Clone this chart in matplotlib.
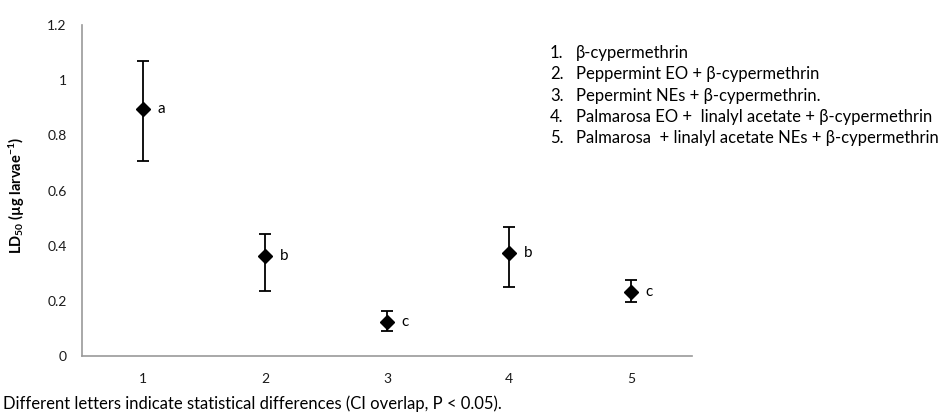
import matplotlib
matplotlib.use("Agg")
import matplotlib.pyplot as plt

plt.rcParams['font.family'] = ['Lato', 'DejaVu Sans']
plt.rcParams['mathtext.default'] = 'regular'

groups = [1, 2, 3, 4, 5]
ld50 = [0.896, 0.363, 0.122, 0.372, 0.232]
ci_low = [0.707, 0.236, 0.092, 0.251, 0.196]
ci_high = [1.068, 0.443, 0.163, 0.467, 0.276]
letters = ['a', 'b', 'c', 'b', 'c']
legend_items = [
    "β-cypermethrin",
    "Peppermint EO + β-cypermethrin",
    "Pepermint NEs + β-cypermethrin.",
    "Palmarosa EO +  linalyl acetate + β-cypermethrin",
    "Palmarosa  + linalyl acetate NEs + β-cypermethrin",
]
yticks = [0, 0.2, 0.4, 0.6, 0.8, 1.0, 1.2]
ytick_labels = ['0', '0.2', '0.4', '0.6', '0.8', '1', '1.2']

fig = plt.figure(figsize=(9.43, 4.15), dpi=100)
ax = fig.add_axes([82/943, 1 - 356/415, (692-82)/943, (356-25)/415])

yerr = [[v - l for v, l in zip(ld50, ci_low)], [h - v for v, h in zip(ld50, ci_high)]]
ax.errorbar(groups, ld50, yerr=yerr, fmt='D', color='black', markersize=7,
            ecolor='black', elinewidth=1.3, capsize=4, capthick=1.3)
for g, v, t in zip(groups, ld50, letters):
    ax.text(g + 0.12, v, t, fontsize=11, va='center', ha='left')

ax.set_xlim(0.5, 5.5)
ax.set_ylim(0, 1.2)
ax.set_xticks(groups)
ax.set_yticks(yticks)
ax.set_yticklabels(ytick_labels)
ax.tick_params(axis='both', length=0, labelsize=10, colors='#1a1a1a')
ax.tick_params(axis='x', pad=12)
ax.tick_params(axis='y', pad=11)
for s in ['top', 'right']:
    ax.spines[s].set_visible(False)
for s in ['left', 'bottom']:
    ax.spines[s].set_color('#999999')
    ax.spines[s].set_linewidth(1.2)

fig.text(17/943, 1 - 195/415, r'LD$_{50}$ (µg larvae$^{-1}$)', rotation=90,
         fontsize=10.5, fontweight='bold', ha='center', va='center')

y0 = 53
for i, item in enumerate(legend_items):
    yy = 1 - (y0 + i * 21.3) / 415
    fig.text(550/943, yy, f"{i+1}.", fontsize=12, va='center', ha='left')
    fig.text(576/943, yy, item, fontsize=12, va='center', ha='left')

fig.text(3/943, 1 - 404/415, "Different letters indicate statistical differences (CI overlap, P < 0.05).",
         fontsize=12, va='center', ha='left')

fig.savefig("out.png", dpi=100)
